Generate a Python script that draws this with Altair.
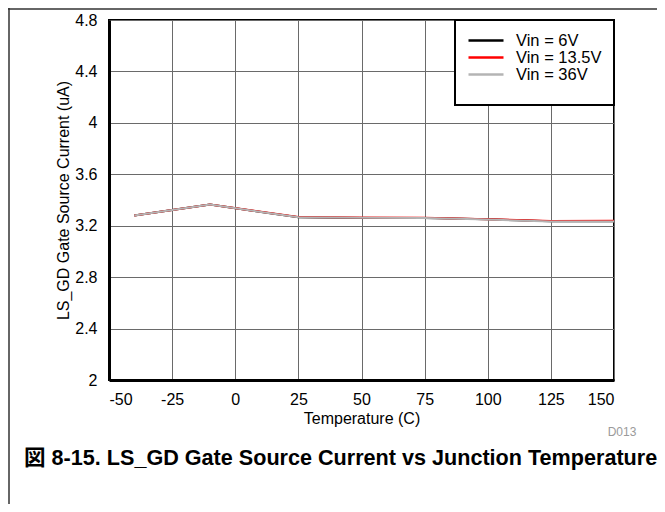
import altair as alt
import pandas as pd

temps = [-40, -10, 25, 50, 75, 100, 125, 150]
vin_6 = [3.28, 3.365, 3.265, 3.26, 3.26, 3.25, 3.235, 3.235]
vin_13_5 = [3.279, 3.364, 3.267, 3.263, 3.262, 3.251, 3.237, 3.238]
vin_36 = [3.28, 3.365, 3.265, 3.262, 3.26, 3.248, 3.232, 3.232]
series_names = ["Vin = 6V", "Vin = 13.5V", "Vin = 36V"]
series_colors = ["#000000", "#ff0000", "#b4b4b4"]
x_ticks = [-50, -25, 0, 25, 50, 75, 100, 125, 150]
y_ticks = [2, 2.4, 2.8, 3.2, 3.6, 4, 4.4, 4.8]
caption = "図 8-15. LS_GD Gate Source Current vs Junction Temperature"
code_label = "D013"

rows = []
for name, vals in zip(series_names, [vin_6, vin_13_5, vin_36]):
    for t, v in zip(temps, vals):
        rows.append({"Temperature": t, "Current": v, "Series": name})
df = pd.DataFrame(rows)

FONT = "Liberation Sans, Arial, Noto Sans CJK JP, sans-serif"

x_enc = alt.X("Temperature:Q", scale=alt.Scale(domain=[-50, 150], nice=False),
              axis=alt.Axis(values=x_ticks, title="Temperature (C)",
                            labelExpr="'' + datum.value"))
y_enc = alt.Y("Current:Q", scale=alt.Scale(domain=[2, 4.8], nice=False, zero=False),
              axis=alt.Axis(values=y_ticks, title="LS_GD Gate Source Current (uA)",
                            format=".1~f"))
c_enc = alt.Color("Series:N", scale=alt.Scale(domain=series_names, range=series_colors),
                  sort=series_names,
                  legend=alt.Legend(title=" ", titleOrient="bottom", titleFontSize=8,
                                    titlePadding=2, orient="top-right", offset=0))

layers = []
for name in series_names:
    layers.append(
        alt.Chart(df).transform_filter(alt.datum.Series == name)
        .mark_line(strokeWidth=2)
        .encode(x=x_enc, y=y_enc, color=c_enc, order=alt.Order("Temperature:Q"))
    )

cap_df = pd.DataFrame({"t": [caption]})
cap = alt.Chart(cap_df).mark_text(
    align="left", baseline="middle", fontSize=21.6, fontWeight="bold", font=FONT, color="black"
).encode(x=alt.value(-85), y=alt.value(439), text="t:N")

code_df = pd.DataFrame({"t": [code_label]})
code = alt.Chart(code_df).mark_text(
    align="center", baseline="middle", fontSize=12, font=FONT, color="#9a9a9a"
).encode(x=alt.value(513), y=alt.value(412), text="t:N")

frame_top = alt.Chart(cap_df).mark_rule(color="#333", strokeWidth=1.5).encode(
    x=alt.value(-101), x2=alt.value(560), y=alt.value(-11))
frame_left = alt.Chart(cap_df).mark_rule(color="#333", strokeWidth=1.5).encode(
    x=alt.value(-100), y=alt.value(-12), y2=alt.value(490))

chart = alt.layer(*layers, cap, code, frame_top, frame_left).properties(
    width=505, height=360,
    autosize=alt.AutoSizeParams(type="none"),
    padding={"left": 101, "top": 12, "right": 43, "bottom": 124},
).configure_view(
    stroke="black", strokeWidth=2
).configure_axis(
    labelFont=FONT, titleFont=FONT, labelFontSize=16, titleFontSize=16,
    titleFontWeight="normal", labelColor="black", titleColor="black",
    tickSize=0, grid=True, gridColor="#6a6a6a", gridWidth=1,
    domainColor="black", domainWidth=3,
).configure_axisX(
    labelPadding=11, titlePadding=3,
).configure_axisY(
    labelPadding=12, titlePadding=3,
).configure_legend(
    labelFont=FONT, labelFontSize=16.5, labelColor="black", symbolType="stroke",
    symbolSize=1225, symbolStrokeWidth=2.5, labelOffset=11, rowPadding=0,
    clipHeight=17, padding=12, strokeColor="black", strokeWidth=2, fillColor="white",
    titleFont=FONT,
)

chart.save("out.html", embed_options={"renderer": "svg", "actions": False})
